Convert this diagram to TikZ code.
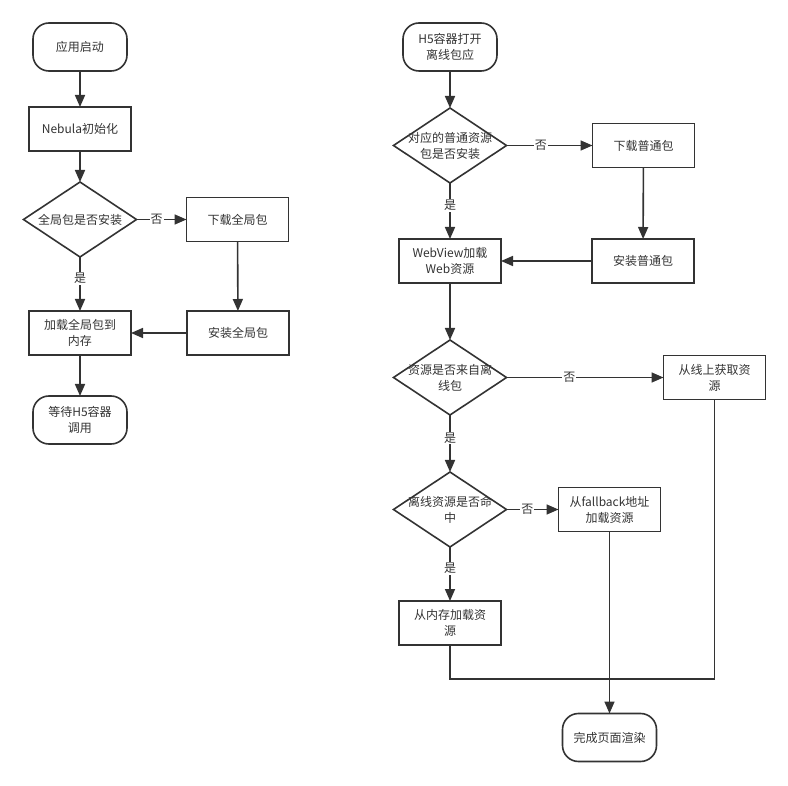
\documentclass[tikz,border=0pt]{standalone}
\usepackage{fontspec}
\setmainfont{Noto Sans CJK SC}
\usetikzlibrary{arrows.meta, shapes.geometric, positioning}
\definecolor{ink}{RGB}{51,51,51}

\begin{document}
\begin{tikzpicture}[
  x=1pt, y=-1pt,
  every node/.style={font=\fontsize{12}{16}\selectfont, text=ink, align=center},
  term/.style={rectangle, draw=ink, line width=1.6pt, rounded corners=16pt,
               minimum width=94pt, minimum height=48pt, inner sep=0pt,
               outer sep=0pt},
  proc/.style={rectangle, draw=ink, line width=1.6pt,
               minimum width=102pt, minimum height=44pt, inner sep=0pt,
               outer sep=0pt},
  dec/.style={diamond, draw=ink, line width=1.6pt, shape aspect=1.5,
              minimum width=113pt, minimum height=75pt,
              inner xsep=-10pt, inner ysep=-4pt, outer sep=0pt},
  arr/.style={-{Triangle[length=12pt, width=10pt]}, draw=ink, line width=1.6pt},
  lbl/.style={fill=white, inner sep=1pt, pos=0.4},
]
\useasboundingbox (0,0) rectangle (788,786);

\node[term] (start) at (80,47) {应用启动};
\node[proc, below=36pt of start] (init) {Nebula初始化};
\node[dec, below=31pt of init] (dq1) {全局包是否安装};
\node[proc, below=54pt of dq1] (load) {加载全局包到\\内存};
\node[term, below=41pt of load] (wait) {等待H5容器\\调用};
\node[proc, right=50pt of dq1] (dl1) {下载全局包};
\node[proc, right=56pt of load] (inst1) {安装全局包};

\draw[arr] (start) -- (init);
\draw[arr] (init) -- (dq1);
\draw[arr] (dq1) -- node[lbl]{否} (dl1);
\draw[arr] (dq1) -- node[lbl]{是} (load);
\draw[arr] (dl1) -- (inst1);
\draw[arr] (inst1) -- (load);
\draw[arr] (load) -- (wait);

\node[term] (start2) at (450,47) {H5容器打开\\离线包应};
\node[dec, below=37pt of start2] (dq2) {对应的普通资源\\包是否安装};
\node[proc, right=86pt of dq2] (dl2) {下载普通包};
\node[proc, below=56pt of dq2] (wv) {WebView加载\\Web资源};
\node[proc, right=91pt of wv] (inst2) {安装普通包};
\node[dec, below=57pt of wv] (dq3) {资源是否来自离\\线包};
\node[proc, right=157pt of dq3] (online) {从线上获取资\\源};
\node[dec, below=57pt of dq3] (dq4) {离线资源是否命\\中};
\node[proc, right=52pt of dq4] (fb) {从fallback地址\\加载资源};
\node[proc, below=54pt of dq4] (mem) {从内存加载资\\源};
\node[term, below=182pt of fb] (done) {完成页面渲染};
\coordinate[below=34pt of mem] (mj);

\draw[arr] (start2) -- (dq2);
\draw[arr] (dq2) -- node[lbl]{否} (dl2);
\draw[arr] (dl2) -- (inst2);
\draw[arr] (inst2) -- (wv);
\draw[arr] (dq2) -- node[lbl]{是} (wv);
\draw[arr] (wv) -- (dq3);
\draw[arr] (dq3) -- node[lbl]{否} (online);
\draw[arr] (dq3) -- node[lbl]{是} (dq4);
\draw[arr] (dq4) -- node[lbl]{否} (fb);
\draw[arr] (dq4) -- node[lbl]{是} (mem);
\draw[draw=ink, line width=1.6pt] (mem) -- (mj) -| (online);
\draw[arr] (fb) -- (done);
\end{tikzpicture}
\end{document}
